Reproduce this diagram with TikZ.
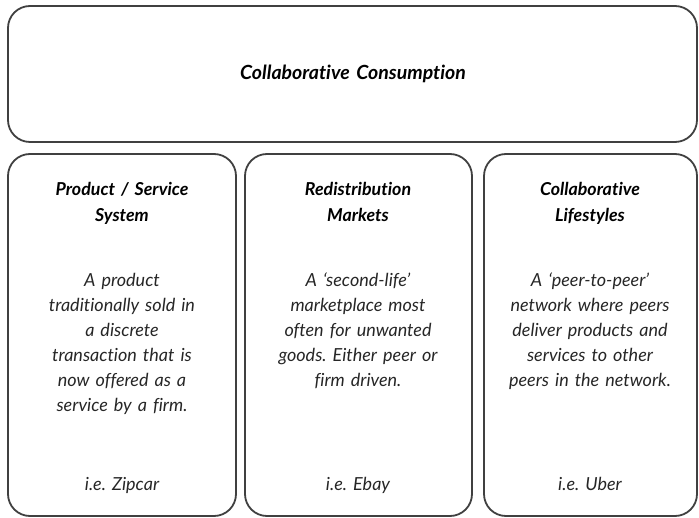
\documentclass[tikz,border=0pt]{standalone}
\usepackage{fontspec}
\setmainfont{Lato}[Ligatures=NoCommon]
\usepackage{tikz}
\frenchspacing

\begin{document}
\begin{tikzpicture}[x=1pt,y=-1pt,
  box/.style={draw=black!75,line width=1.8pt,rounded corners=22pt},
  head/.style={inner sep=0pt,anchor=base,align=center,text width=210pt,
    font=\fontsize{17.8}{26}\selectfont\bfseries\itshape},
  body/.style={inner sep=0pt,anchor=base,align=center,text width=210pt,
    text=black!85,font=\fontsize{18}{25}\selectfont\itshape}]
\useasboundingbox (0,0) rectangle (699,518);

% frames
\draw[box] (8,6) rectangle (697,142);
\draw[box] (8,154) rectangle (236,516);
\draw[box] (245,154) rectangle (472,516);
\draw[box] (484,154) rectangle (697,516);

% title
\node[head,text width=400pt,font=\fontsize{19.5}{26}\selectfont\bfseries\itshape] (title) at (353,80) {Collaborative Consumption};

% headings
\node[head] (h1) at (122,196) {Product / Service\\System};
\node[head] (h2) at (358,196) {Redistribution\\Markets};
\node[head] (h3) at (590,196) {Collaborative\\Lifestyles};

% descriptions
\node[body] (d1) at (122,287) {A product\\traditionally sold in\\a discrete\\transaction that is\\now offered as a\\service by a firm.};
\node[body] (d2) at (358,287) {A ‘second-life’\\marketplace most\\often for unwanted\\goods. Either peer or\\firm driven.};
\node[body] (d3) at (590,287) {A ‘peer-to-peer’\\network where peers\\deliver products and\\services to other\\peers in the network.};

% examples
\node[body] (e1) at (122,490) {i.e. Zipcar};
\node[body] (e2) at (358,490) {i.e. Ebay};
\node[body] (e3) at (590,490) {i.e. Uber};
\end{tikzpicture}
\end{document}
